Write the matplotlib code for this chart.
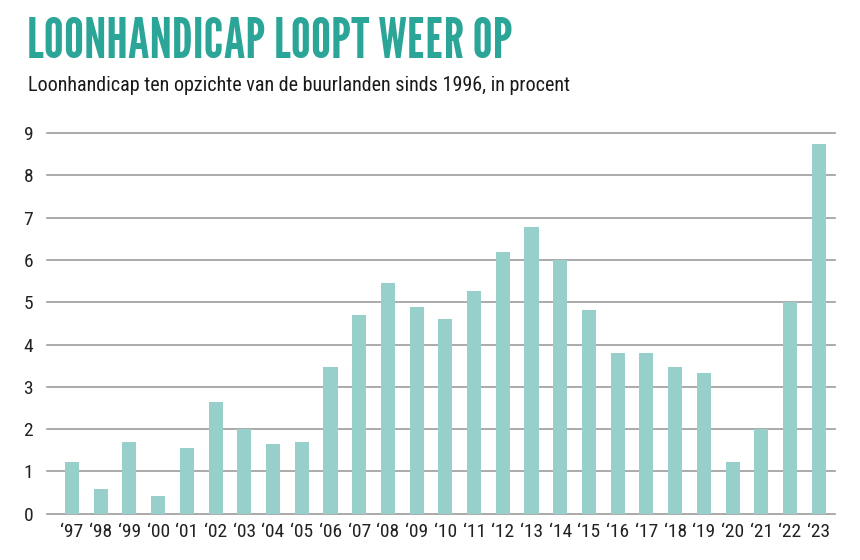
import matplotlib.pyplot as plt

# data
jaren = ["‘97", "‘98", "‘99", "‘00", "‘01", "‘02", "‘03", "‘04", "‘05", "‘06",
         "‘07", "‘08", "‘09", "‘10", "‘11", "‘12", "‘13", "‘14", "‘15", "‘16",
         "‘17", "‘18", "‘19", "‘20", "‘21", "‘22", "‘23"]
handicap = [1.22, 0.59, 1.70, 0.43, 1.56, 2.64, 2.01, 1.64, 1.70, 3.48,
            4.69, 5.46, 4.90, 4.60, 5.27, 6.20, 6.79, 6.01, 4.81, 3.79,
            3.79, 3.48, 3.32, 1.22, 2.00, 5.01, 8.75]
yticks = list(range(0, 10))

titel_font = ["League Gothic", "DejaVu Sans"]
font = ["Roboto Condensed", "DejaVu Sans"]

fig = plt.figure(figsize=(8.6, 5.6), dpi=100)
ax = fig.add_axes([0.0547, 0.0827, 0.9163, 0.6795])

x = range(len(jaren))
ax.bar(x, handicap, width=0.49, color="#97d0ca", zorder=2)

ax.set_ylim(0, 9.0)
ax.set_xlim(-0.87, len(jaren) - 0.43)
ax.set_yticks(yticks)
ax.set_xticks(list(x))
ax.set_xticklabels(jaren, family=font, fontsize=14, color="#222222")
ax.set_yticklabels([str(t) for t in yticks], family=font, fontsize=14, color="#222222")
ax.tick_params(axis="both", length=0)
ax.tick_params(axis="y", pad=10)
ax.tick_params(axis="x", pad=7)

for t in yticks:
    ax.axhline(t, color="#9c9c9c", lw=1.2, zorder=1, clip_on=False)

for s in ax.spines.values():
    s.set_visible(False)

fig.text(0.031, 0.896, "LOONHANDICAP LOOPT WEER OP", family=titel_font,
         fontsize=40.5, color="#2ba597", ha="left", va="baseline")
fig.text(0.032, 0.8375, "Loonhandicap ten opzichte van de buurlanden sinds 1996, in procent",
         family=font, fontsize=14.5, color="#1a1a1a", ha="left", va="baseline")

fig.savefig("out.png", dpi=100)
